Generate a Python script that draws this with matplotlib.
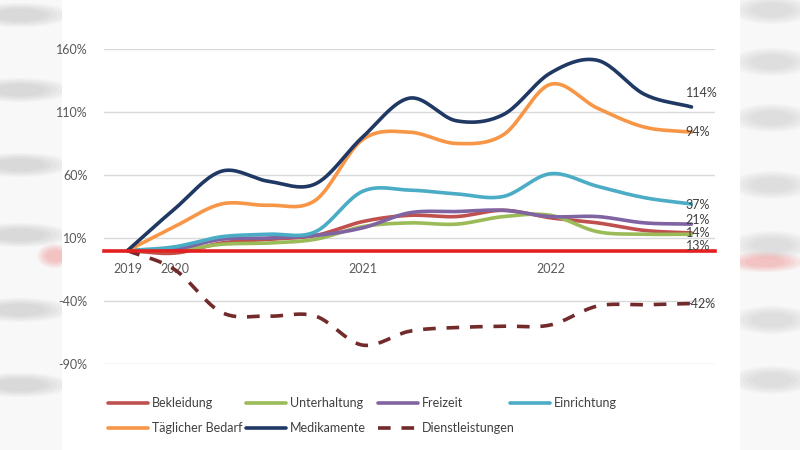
import numpy as np
import matplotlib
matplotlib.use("Agg")
import matplotlib.pyplot as plt
from matplotlib.patches import Rectangle, Ellipse

plt.rcParams['font.family'] = ['Lato', 'DejaVu Sans']

# quarterly index values (% change vs 2019)
x_labels = ["2019", "2020", "", "", "", "2021", "", "", "", "2022", "", "", ""]
bekleidung = [0, -2, 6, 9, 12, 23, 28, 27, 32, 26, 22, 16, 14]
unterhaltung = [0, 0, 5, 6, 9, 19, 22, 21, 27, 28, 15, 13, 13]
freizeit = [0, 1, 9, 10, 12, 18, 30, 31, 32, 27, 27, 22, 21]
einrichtung = [0, 3, 11, 13, 15, 47, 48, 45, 43, 61, 51, 42, 37]
taeglich = [0, 19, 37, 36, 40, 88, 94, 85, 92, 132, 113, 98, 94]
medikamente = [0, 33, 63, 55, 53, 90, 121, 103, 108, 141, 151, 124, 114]
dienst = [0, -15, -49, -52, -52, -75, -64, -61, -60, -59, -44, -43, -42]

end_labels = ["14%", "13%", "21%", "37%", "94%", "114%", "-42%"]


def smooth(xs, ys, n=20):
	# catmull-rom curve through the points, like excel's smoothed lines
	xs = np.asarray(xs, float)
	ys = np.asarray(ys, float)
	px = np.concatenate([[2*xs[0]-xs[1]], xs, [2*xs[-1]-xs[-2]]])
	py = np.concatenate([[2*ys[0]-ys[1]], ys, [2*ys[-1]-ys[-2]]])
	outx, outy = [], []
	t = np.linspace(0, 1, n, endpoint=False)
	for i in range(1, len(px)-2):
		for p, out in ((px, outx), (py, outy)):
			p0, p1, p2, p3 = p[i-1], p[i], p[i+1], p[i+2]
			out.extend(0.5*((2*p1) + (-p0+p2)*t + (2*p0-5*p1+4*p2-p3)*t**2 + (-p0+3*p1-3*p2+p3)*t**3))
	outx.append(xs[-1])
	outy.append(ys[-1])
	return outx, outy


def blob(fig, cx, cy, w, h, col):
	# cheap blur: stacked faint ellipses
	for k in range(5):
		f = 1.0 + 0.25*k
		fig.patches.append(Ellipse((cx/800, 1-cy/450), w*f/800, h*f/450, transform=fig.transFigure,
			facecolor=col, edgecolor="none", alpha=0.08, zorder=-9))


fig = plt.figure(figsize=(8, 4.5), dpi=100)
fig.patch.set_facecolor("#f8f8f8")
fig.patches.append(Rectangle((62/800, 0), 678/800, 1, transform=fig.transFigure,
	facecolor="white", edgecolor="none", zorder=-8))
# blurred stuff at the sides of the screenshot
for yy in [15, 90, 165, 235, 310, 385]:
	blob(fig, 20, yy, 50, 12, "#a0a0a0")
for yy in [10, 62, 118, 185, 245, 320, 380]:
	blob(fig, 772, yy, 40, 14, "#b0b0b0")
blob(fig, 55, 256, 18, 12, "#f06060")
blob(fig, 765, 262, 40, 10, "#f06060")

ax = fig.add_axes([104/800, 1-364/450, 611/800, 315/450])
ax.set_facecolor("none")

series = [
	("Bekleidung", bekleidung, "#c0504d", "-"),
	("Unterhaltung", unterhaltung, "#9bbb59", "-"),
	("Freizeit", freizeit, "#8064a2", "-"),
	("Einrichtung", einrichtung, "#4bacc6", "-"),
	("Täglicher Bedarf", taeglich, "#f79646", "-"),
	("Medikamente", medikamente, "#1f3864", "-"),
	("Dienstleistungen", dienst, "#722a2a", "--"),
]
x = np.arange(len(x_labels))
handles = {}
for name, vals, col, ls in series:
	sx, sy = smooth(x, vals)
	if ls == "--":
		h, = ax.plot(sx, sy, color=col, lw=2.6, ls=(0, (3.5, 3)), label=name, zorder=3)
	else:
		h, = ax.plot(sx, sy, color=col, lw=2.6, label=name, zorder=3, solid_capstyle="round")
	handles[name] = h

# end labels
label_y = {"Bekleidung": 14, "Unterhaltung": 4, "Freizeit": 24, "Einrichtung": 36,
	"Täglicher Bedarf": 94, "Medikamente": 125, "Dienstleistungen": -42}
for (name, vals, col, ls), lab in zip(series, end_labels):
	ax.text(x[-1] - 0.12, label_y[name], lab, fontsize=9, color="#404040",
		va="center", ha="left", zorder=5)

ax.set_xlim(-0.5, 12.5)
ax.set_ylim(-90, 160)
ax.set_yticks([-90, -40, 10, 60, 110, 160])
ax.set_yticklabels(["%d%%" % v for v in [-90, -40, 10, 60, 110, 160]])
ax.yaxis.grid(True, color="#d9d9d9", lw=1)
ax.set_axisbelow(True)
ax.tick_params(axis="y", length=0, pad=12, labelsize=9, labelcolor="#595959")

ax.set_xticks(x)
ax.set_xticklabels(x_labels)
ax.tick_params(axis="x", length=0, pad=9, labelsize=9, labelcolor="#595959")
for s in ["top", "right", "left"]:
	ax.spines[s].set_visible(False)
ax.spines["bottom"].set_position(("data", 0))
ax.spines["bottom"].set_color("#e41f1f")
ax.spines["bottom"].set_linewidth(2.6)
ax.spines["bottom"].set_zorder(4)

# legend cells laid out like excel: fixed grid, 4 per row
legend_order = ["Bekleidung", "Unterhaltung", "Freizeit", "Einrichtung",
	"Täglicher Bedarf", "Medikamente", "Dienstleistungen"]
cell_x = [108, 246, 378, 510]
row_y = [403, 428]
for k, name in enumerate(legend_order):
	lg = fig.legend([handles[name]], [name], loc="center left",
		bbox_to_anchor=(cell_x[k % 4]/800, 1-row_y[k // 4]/450), frameon=False,
		fontsize=9, handlelength=3.2, handletextpad=0.3, borderpad=0,
		borderaxespad=0, labelcolor="#404040")

fig.savefig("out.png", dpi=100, facecolor=fig.get_facecolor())
